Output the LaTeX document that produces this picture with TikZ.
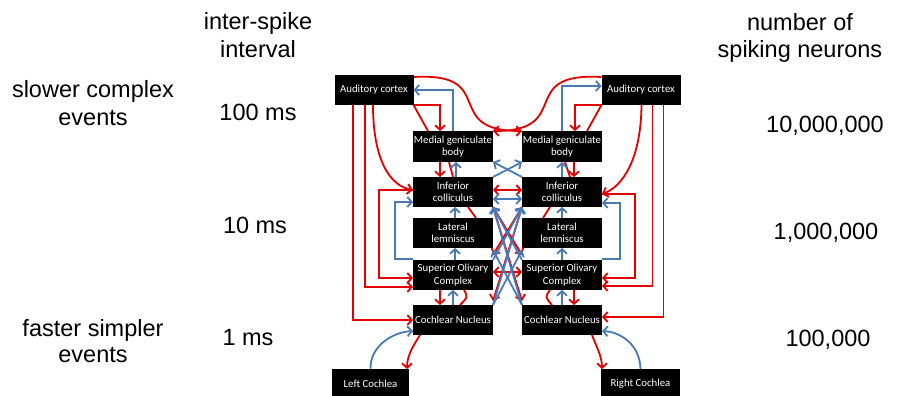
\documentclass[tikz,border=0pt]{standalone}
\usepackage{fontspec}
\setmainfont{Liberation Sans}
\newfontfamily\boxfont{Carlito}
\usetikzlibrary{arrows.meta,calc}
\definecolor{myred}{RGB}{228,0,0}
\definecolor{myblue}{RGB}{74,122,180}
\begin{document}
\begin{tikzpicture}[x=1pt,y=-1pt,
  >={Straight Barb[length=4.5pt,width=10pt]},
  box/.style={fill=black, text=white, inner sep=0pt, outer sep=0pt, minimum width=80pt, minimum height=30pt, align=center, font=\boxfont\fontsize{10.8}{12.5}\selectfont},
  lbl/.style={anchor=base, inner sep=0pt, font=\fontsize{23.5}{28}\selectfont},
  rl/.style={draw=myred, line width=1.8pt},
  bl/.style={draw=myblue, line width=1.8pt}]
\useasboundingbox (0,0) rectangle (898,396);

% labels
\node[lbl] (t1) at (258,30) {inter-spike};
\node[lbl] (t2) at (258,58) {interval};
\node[lbl] (t3) at (93,98) {slower complex};
\node[lbl] (t4) at (93,125) {events};
\node[lbl] (t5) at (258,121) {100 ms};
\node[lbl] (t6) at (255,233) {10 ms};
\node[lbl] (t7) at (248,345) {1 ms};
\node[lbl] (t8) at (93,336) {faster simpler};
\node[lbl] (t9) at (93,362) {events};
\node[lbl] (t10) at (800,31) {number of};
\node[lbl] (t11) at (800,58) {spiking neurons};
\node[lbl] (t12) at (825,132) {10,000,000};
\node[lbl] (t13) at (826,239) {1,000,000};
\node[lbl] (t14) at (828,346) {100,000};

% boxes
\node[box, minimum width=79pt] (ACL) at (374,90) {Auditory cortex};
\node[box, minimum width=79pt] (ACR) at (641,90) {Auditory cortex};
\node[box, minimum height=31pt] (MGBL) at (453,146.5) {Medial geniculate\\body};
\node[box, minimum height=31pt] (MGBR) at (562,146.5) {Medial geniculate\\body};
\node[box] (ICL) at (453,192) {Inferior\\colliculus};
\node[box] (ICR) at (562,192) {Inferior\\colliculus};
\node[box] (LLL) at (453,233) {Lateral\\lemniscus};
\node[box] (LLR) at (562,233) {Lateral\\lemniscus};
\node[box] (SOCL) at (453,275) {Superior Olivary\\Complex};
\node[box] (SOCR) at (562,275) {Superior Olivary\\Complex};
\node[box] (CNL) at (453,320) {Cochlear Nucleus};
\node[box] (CNR) at (562,320) {Cochlear Nucleus};
\node[box, minimum width=77pt] (LC) at (370.5,384) {Left Cochlea};
\node[box, minimum width=79pt] (RC) at (640.5,384) {Right Cochlea};

% left outer descending paths
\draw[rl,->] ($(ACL.south west)+(18.5,0)$) |- (CNL.west);
\draw[rl,->] ($(ACL.south west)+(30.5,0)$) |- ($(SOCL.west)+(0,12)$);
\draw[rl,->] ($(ACL.south west)+(38.5,0)$) .. controls (373,160) and (390,186) .. ($(ICL.west)+(0,-2)$);
\draw[rl,->] ($(ICL.west)+(0,-2)$) -- ++(-34,0) |- ($(SOCL.west)+(0,3)$);
\draw[bl,->] ($(SOCL.north west)+(0,-1)$) -- ++(-18,0) |- ($(ICL.west)+(0,10)$);

% right outer descending paths
\draw[rl,->] ($(ACR.south east)+(-17,0)$) |- ($(CNR.east)+(0,-3)$);
\draw[rl,->] ($(ACR.south east)+(-28,0)$) |- ($(SOCR.east)+(0,11)$);
\draw[rl,->] ($(ACR.south east)+(-39,0)$) .. controls (641,160) and (622,187) .. ($(ICR.east)+(0,2)$);
\draw[rl,->] ($(ICR.east)+(0,2)$) -- ++(33,0) |- ($(SOCR.east)+(0,3)$);
\draw[bl,->] ($(SOCR.north east)+(0,-1)$) -- ++(18,0) |- ($(ICR.east)+(0,11)$);

% AC <-> MGB
\draw[rl,->] (ACL.south east) -| ($(MGBL.north west)+(27,0)$);
\draw[rl] (ACL.south east) -- ($(MGBL.north west)+(15,0)$);
\draw[bl,->] (MGBL.north) |- (ACL.east);
\draw[rl,->] (ACR.south west) -| ($(MGBR.north east)+(-27,0)$);
\draw[rl] (ACR.south west) -- ($(MGBR.north east)+(-15,0)$);
\draw[bl,->] (MGBR.north) |- ($(ACR.west)+(0,-4)$);

% crossing cortical curves
\draw[rl,->] ($(ACL.north east)+(0,2)$) .. controls (500,72) and (440,131) .. (MGBR.north west);
\draw[rl,->] ($(ACR.north west)+(0,2)$) .. controls (515,72) and (575,131) .. (MGBL.north east);

% MGB <-> IC
\draw[rl,->] ($(MGBL.south west)+(27,0)$) -- ($(ICL.north west)+(27,0)$);
\draw[rl] ($(MGBL.south west)+(36,0)$) -- ($(ICL.north west)+(40,0)$);
\draw[bl,->] ($(ICL.north)+(3,0)$) -- ($(MGBL.south)+(3,0)$);
\draw[rl,->] ($(MGBR.south east)+(-28,0)$) -- ($(ICR.north east)+(-28,0)$);
\draw[rl] ($(MGBR.south)+(3,0)$) -- ($(ICR.north)+(8,0)$);
\draw[bl,->] (ICR.north) -- (MGBR.south);

% IC <-> LL
\draw[bl,->] ($(LLL.north)+(2,0)$) -- ($(ICL.south)+(2,0)$);
\draw[rl] ($(ICL.south)+(15,0)$) -- ($(LLL.north)+(23,0)$);
\draw[bl,->] (LLR.north) -- (ICR.south);
\draw[rl] ($(ICR.south)+(-12,0)$) -- ($(LLR.north)+(-19,0)$);

% LL <-> SOC
\draw[bl,->] ($(SOCL.north)+(2,0)$) -- ($(LLL.south)+(2,0)$);
\draw[bl,->] (SOCR.north) -- (LLR.south);

% SOC <-> CN
\draw[rl,->] ($(SOCL.south west)+(27,0)$) -- ($(CNL.north west)+(27,0)$);
\draw[bl,->] (CNL.north) -- (SOCL.south);
\draw[rl] ($(SOCL.south)+(11,0)$) .. controls (468,297) .. ($(CNL.north)+(7,0)$);
\draw[rl,->] ($(SOCR.south east)+(-28,0)$) -- ($(CNR.north east)+(-28,0)$);
\draw[bl,->] (CNR.north) -- (SOCR.south);
\draw[rl] ($(SOCR.south)+(-12,0)$) .. controls (545,297) .. ($(CNR.north)+(-10,0)$);

% cochleas
\draw[bl,->] (LC.north) .. controls (370,345) and (394,332) .. ($(CNL.west)+(0,11)$);
\draw[rl,->] ($(CNL.south west)+(7,0)$) .. controls (413,346) and (407,356) .. ($(LC.north east)+(-2,0)$);
\draw[rl,->] ($(CNR.south east)+(-10,0)$) .. controls (596,346) and (602,356) .. ($(RC.north west)+(1,0)$);
\draw[bl,->] (RC.north) .. controls (640,345) and (621,332) .. ($(CNR.east)+(0,11)$);

% central web: MGB/IC
\draw[bl,->] (ICL.north east) -- (MGBR.south west);
\draw[bl,->] (ICR.north west) -- (MGBL.south east);
\draw[rl,<->] ($(ICL.east)+(0,-2)$) -- ($(ICR.west)+(0,-2)$);
\draw[bl,<->] ($(ICL.east)+(0,7)$) -- ($(ICR.west)+(0,7)$);

% central web: lower
\draw[rl,->] (ICL.south east) -- ($(SOCR.north west)+(0,-5)$);
\draw[rl,->] (ICR.south west) -- ($(SOCL.north east)+(0,-5)$);
\draw[rl,->] (ICL.south east) -- ($(CNR.north west)+(0,-4)$);
\draw[rl,->] (ICR.south west) -- ($(CNL.north east)+(0,-4)$);
\draw[rl,<->] ($(SOCL.east)+(0,-3)$) -- ($(SOCR.west)+(0,-3)$);
\draw[bl,->] (CNL.north east) -- (ICR.south west);
\draw[bl,->] (CNR.north west) -- (ICL.south east);
\draw[bl,->] (CNL.north east) -- ($(LLR.south west)+(0,2)$);
\draw[bl,->] (CNR.north west) -- ($(LLL.south east)+(0,2)$);
\draw[bl,->] (SOCL.north east) -- (ICR.south west);
\draw[bl,->] (SOCR.north west) -- (ICL.south east);
\end{tikzpicture}
\end{document}
